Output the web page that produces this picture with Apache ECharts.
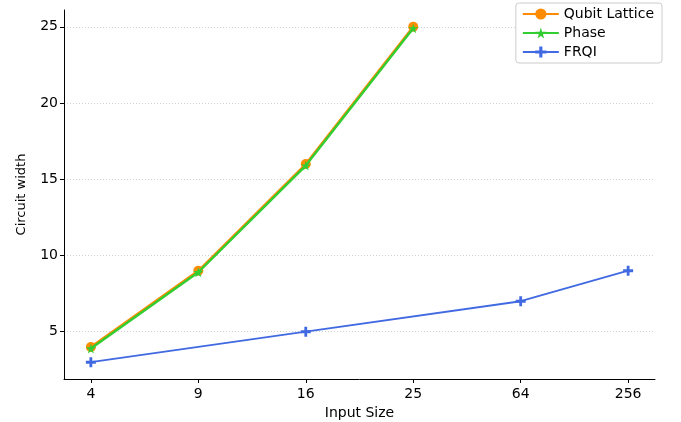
<!DOCTYPE html>
<html>
<head>
<meta charset="utf-8">
<script src="https://cdn.jsdelivr.net/npm/echarts@6/dist/echarts.min.js"></script>
<style>html,body{margin:0;padding:0;background:#fff}#c{width:681px;height:422px}</style>
</head>
<body>
<div id="c"></div>
<script>
const categories = ['4', '9', '16', '25', '64', '256'];
const qubitLattice = [4, 9, 16, 25, null, null];
const phase = [3.9, 8.9, 15.9, 24.9, null, null];
const frqi = [3, null, 5, null, 7, 9];
const yTicks = [5, 10, 15, 20, 25];

const toPairs = arr => arr.map((v, i) => [i, v]).filter(p => p[1] !== null);
const starPath = 'path://M50,0 L61,35 L98,35 L68,57 L79,91 L50,70 L21,91 L32,57 L2,35 L39,35 Z';
const plusPath = 'path://M36,0 H64 V36 H100 V64 H64 V100 H36 V64 H0 V36 H36 Z';
const font = 'DejaVu Sans';

const chart = echarts.init(document.getElementById('c'), null, {renderer: 'canvas'});
chart.setOption({
  animation: false,
  textStyle: {fontFamily: font},
  grid: {left: 64, right: 26, top: 10, bottom: 43, containLabel: false, outerBoundsMode: 'none'},
  legend: {
    orient: 'vertical', right: 19, top: 3,
    backgroundColor: '#fff', borderColor: '#ccc', borderWidth: 1, borderRadius: 3,
    padding: [4, 8, 4, 6], itemGap: 5, itemWidth: 36, itemHeight: 14,
    textStyle: {fontSize: 14, color: '#000', fontFamily: font},
    data: ['Qubit Lattice', 'Phase', 'FRQI']
  },
  xAxis: {
    type: 'value', min: -0.25, max: 5.25,
    name: 'Input Size', nameLocation: 'middle', nameGap: 27,
    nameTextStyle: {fontSize: 14, color: '#000', fontFamily: font},
    axisLine: {show: true, onZero: false, lineStyle: {color: '#000', width: 1}},
    axisTick: {show: true, length: 4, customValues: categories.map((c, i) => i), lineStyle: {color: '#000'}},
    axisLabel: {customValues: categories.map((c, i) => i), fontSize: 14, color: '#000', margin: 8,
      formatter: v => categories[Math.round(v)]},
    splitLine: {show: false}
  },
  yAxis: {
    type: 'value', min: 1.9, max: 26.1,
    name: 'Circuit width', nameLocation: 'middle', nameGap: 36, nameRotate: 90,
    nameTextStyle: {fontSize: 13, color: '#000', fontFamily: font},
    axisLine: {show: true, onZero: false, lineStyle: {color: '#000', width: 1}},
    axisTick: {show: true, length: 4, customValues: yTicks, lineStyle: {color: '#000'}},
    axisLabel: {customValues: yTicks, fontSize: 14, color: '#000', margin: 6},
    splitLine: {show: true, lineStyle: {color: '#d0d0d0', type: [1, 2], width: 1}}
  },
  series: [
    {name: 'Qubit Lattice', type: 'line', data: toPairs(qubitLattice), color: '#ff8c00',
      symbol: 'circle', symbolSize: 10, showSymbol: true, lineStyle: {width: 2.4}, z: 2},
    {name: 'Phase', type: 'line', data: toPairs(phase), color: '#32cd32',
      symbol: starPath, symbolSize: 10, lineStyle: {width: 2.4}, z: 3},
    {name: 'FRQI', type: 'line', data: toPairs(frqi), color: '#4169e1',
      symbol: plusPath, symbolSize: 10, lineStyle: {width: 1.8}, z: 4}
  ]
});
</script>
</body>
</html>
